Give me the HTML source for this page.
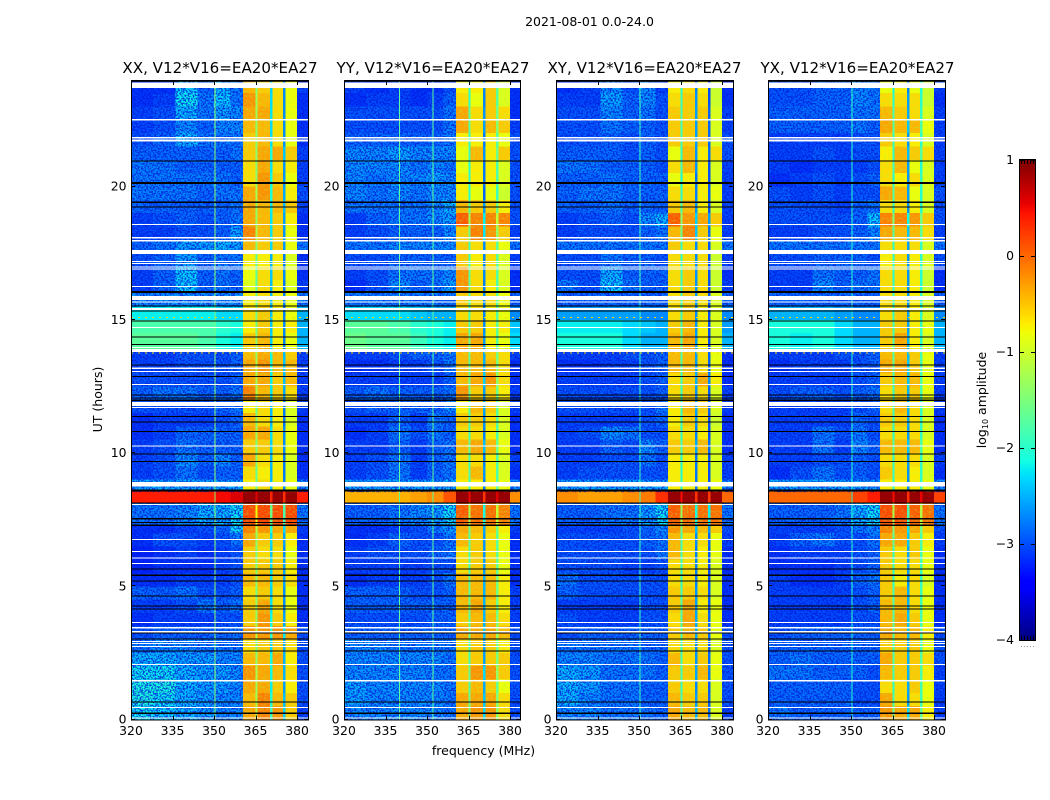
<!DOCTYPE html>
<html lang="en">
<head>
<meta charset="utf-8">
<title>2021-08-01 0.0-24.0</title>
<style>
html,body{margin:0;padding:0;background:#fff;width:1050px;height:800px;overflow:hidden}
svg{display:block}
text{font-family:"DejaVu Sans","Liberation Sans",sans-serif;fill:#000}
.tick-label{font-size:12.4px}
.panel-title{font-size:15.1px;text-anchor:middle}
.axis-label{font-size:12.5px;text-anchor:middle}
</style>
</head>
<body>
<svg id="figure" xmlns="http://www.w3.org/2000/svg" width="1050" height="800" viewBox="0 0 1050 800">
  <defs>
    <filter id="speckle" x="0" y="0" width="1" height="1" color-interpolation-filters="sRGB">
      <feTurbulence type="fractalNoise" baseFrequency="0.6" numOctaves="1" seed="7"/>
      <feColorMatrix values="0 0 0 0 0  0 0 0 0 0.1  0 0 0 0 0.85  5 0 0 0 -2.1"/>
    </filter>
    <filter id="band-speckle" x="0" y="0" width="1" height="1" color-interpolation-filters="sRGB">
      <feTurbulence type="fractalNoise" baseFrequency="0.45" numOctaves="1" seed="11"/>
      <feColorMatrix values="0 0 0 0 0.65  0 0 0 0 1  0 0 0 0 0.3  3 0 0 0 -1.2"/>
    </filter>
  </defs>
  <text x="589.5" y="26" text-anchor="middle" font-size="12.5">2021-08-01 0.0-24.0</text>
  <g id="panels"></g>
  <text class="panel-title" x="220" y="73">XX, V12*V16=EA20*EA27</text>
  <text class="panel-title" x="433" y="73">YY, V12*V16=EA20*EA27</text>
  <text class="panel-title" x="644.5" y="73">XY, V12*V16=EA20*EA27</text>
  <text class="panel-title" x="857.5" y="73">YX, V12*V16=EA20*EA27</text>
  <text class="axis-label" transform="translate(102,399.5) rotate(-90)">UT (hours)</text>
  <text class="axis-label" x="483.5" y="755">frequency (MHz)</text>
  <g id="colorbar"></g>
  <text class="axis-label" transform="translate(986,400) rotate(-90)">log<tspan font-size="8" dy="2">10</tspan><tspan dy="-2"> amplitude</tspan></text>
</svg>
<script>
// Time bin edges in hours (top of the plot to the bottom); one matrix row per bin.
const timeEdges = [24,23.5,23,22.5,22,21.5,21,20.5,20,19.5,19,18.5,18,17.5,17,16.5,16,15.5,15,14.5,13.85,13.5,13,12.5,12,11.5,11,10.5,10,9.5,9,8.55,8.1,7.3,7,6.5,6,5.5,5,4.5,4,3.5,3,2.5,2,1.5,1,0.5,0];
// Frequency column edges in MHz.
const freqEdges = [320,328,336,344,350,356,360.5,365,365.8,370.3,371.1,375,375.8,380,384];
// Tick values and labels.
const freqTicks = [320,335,350,365,380];
const hourTicks = [0,5,10,15,20];
const colorbarTicks = [1,0,-1,-2,-3,-4];

// log10 amplitude x 10. Columns: six sub-band blocks, bands A-D, upper edge block.
const xxLevels = [
[-31,-31,-23,-28,-24,-27,-4,-5,-6,-8,-30],
[-31,-30,-22,-27,-23,-27,-2,-4,-6,-8,-31],
[-30,-29,-24,-27,-25,-26,-3,-3,-6,-8,-31],
[-30,-29,-26,-28,-26,-26,-4,-4,-6,-8,-31],
[-29,-28,-24,-27,-27,-27,-5,-4,-6,-8,-31],
[-28,-28,-28,-28,-28,-27,-5,-3,-3,-5,-30],
[-27,-27,-28,-28,-28,-28,-6,-3,-6,-7,-30],
[-27,-27,-27,-27,-27,-28,-6,-2,-5,-8,-30],
[-27,-27,-27,-28,-27,-27,-3,-2,-4,-7,-29],
[-28,-28,-28,-28,-28,-27,-3,-4,-4,-5,-30],
[-30,-29,-28,-29,-28,-27,-3,-4,-5,-7,-31],
[-30,-30,-29,-29,-28,-25,-1,-4,-5,-8,-31],
[-28,-27,-25,-25,-24,-25,-4,-5,-5,-8,-27],
[-29,-28,-25,-28,-27,-27,-7,-7,-7,-9,-31],
[-30,-28,-23,-28,-27,-28,-8,-6,-6,-8,-31],
[-30,-28,-23,-28,-27,-28,-9,-6,-7,-9,-30],
[-26,-26,-26,-26,-26,-26,-7,-6,-7,-8,-27],
[-22,-22,-22,-22,-23,-23,-6,-5,-7,-8,-25],
[-18,-18,-18,-18,-20,-21,-7,-5,-7,-7,-25],
[-17,-17,-17,-18,-21,-22,-5,-4,-7,-8,-25],
[-30,-30,-29,-29,-29,-28,-4,-3,-4,-5,-30],
[-30,-30,-29,-29,-29,-28,-3,-2,-4,-4,-30],
[-29,-29,-29,-29,-29,-28,-3,-3,-5,-4,-30],
[-28,-27,-27,-28,-28,-27,-1,-4,-5,-6,-30],
[-29,-29,-29,-29,-28,-27,-7,-6,-7,-9,-30],
[-31,-30,-30,-30,-29,-28,-4,-6,-7,-9,-31],
[-31,-30,-28,-28,-28,-28,-3,-3,-6,-8,-31],
[-30,-29,-27,-28,-28,-28,-5,-5,-6,-8,-31],
[-30,-29,-26,-28,-26,-28,-3,-6,-7,-9,-31],
[-30,-29,-27,-29,-28,-28,-6,-7,-7,-9,-31],
[-25,-25,-25,-25,-25,-25,-7,-6,-7,-8,-26],
[4,4,4,4,5,6,9,9,9,9,4],
[-27,-27,-26,-24,-24,-22,2,2,2,2,-27],
[-31,-31,-30,-29,-28,-22,-1,-2,-3,-3,-30],
[-31,-29,-29,-30,-29,-27,-3,-5,-5,-7,-31],
[-32,-31,-30,-31,-30,-29,-5,-6,-6,-8,-31],
[-32,-31,-31,-31,-30,-29,-5,-5,-5,-7,-31],
[-31,-31,-30,-30,-30,-29,-4,-4,-5,-6,-31],
[-28,-28,-27,-29,-29,-28,-6,-5,-6,-8,-31],
[-30,-30,-29,-27,-28,-27,-5,-3,-6,-8,-31],
[-31,-30,-30,-30,-29,-29,-5,-2,-5,-7,-31],
[-29,-28,-28,-28,-28,-27,-2,-2,-2,-3,-29],
[-27,-26,-26,-27,-27,-27,-6,-5,-5,-6,-29],
[-24,-24,-25,-25,-26,-26,-4,-4,-3,-7,-29],
[-22,-22,-24,-25,-25,-26,-2,-3,-4,-6,-29],
[-21,-21,-24,-25,-25,-26,-3,-3,-5,-7,-29],
[-21,-22,-24,-25,-26,-26,-4,-1,-4,-5,-29],
[-22,-23,-24,-25,-26,-26,-3,-1,-2,-5,-30]
];
const yyLevels = [
[-30,-31,-30,-31,-31,-29,-7,-7,-5,-9,-31],
[-31,-30,-30,-31,-30,-28,-6,-8,-5,-9,-31],
[-29,-29,-29,-29,-29,-27,-3,-6,-5,-6,-31],
[-29,-29,-29,-29,-29,-27,-3,-6,-4,-5,-30],
[-28,-28,-28,-28,-28,-27,-7,-7,-7,-8,-29],
[-26,-26,-25,-26,-26,-26,-8,-4,-7,-5,-29],
[-26,-26,-26,-27,-26,-27,-8,-7,-7,-9,-29],
[-26,-27,-26,-26,-25,-26,-7,-7,-7,-9,-29],
[-26,-27,-26,-27,-26,-26,-7,-8,-8,-10,-29],
[-27,-27,-27,-27,-26,-24,-4,-5,-5,-7,-29],
[-30,-28,-27,-27,-26,-25,1,-1,-1,-1,-29],
[-30,-29,-28,-28,-28,-26,-5,-1,-2,-5,-30],
[-27,-27,-26,-26,-26,-26,-5,-6,-6,-8,-27],
[-29,-29,-28,-28,-28,-28,-5,-7,-6,-9,-30],
[-30,-29,-27,-27,-27,-26,-2,-6,-6,-9,-31],
[-31,-29,-26,-28,-27,-25,-2,-6,-7,-9,-31],
[-27,-27,-27,-27,-27,-27,-5,-6,-6,-8,-28],
[-23,-23,-23,-24,-25,-25,-6,-6,-7,-8,-27],
[-17,-17,-18,-20,-21,-22,-5,-5,-7,-7,-24],
[-16,-17,-17,-19,-21,-22,-3,-3,-7,-8,-23],
[-30,-30,-29,-28,-28,-27,-4,-4,-5,-6,-30],
[-31,-31,-30,-30,-29,-27,-4,-4,-4,-6,-31],
[-30,-30,-30,-30,-30,-28,-4,-3,-2,-6,-31],
[-28,-27,-28,-28,-28,-27,-2,-5,-5,-7,-30],
[-29,-28,-28,-28,-28,-26,-7,-4,-5,-9,-30],
[-30,-30,-28,-30,-27,-28,-5,-5,-6,-9,-31],
[-31,-30,-27,-29,-27,-28,-6,-6,-7,-9,-31],
[-30,-30,-28,-30,-28,-27,-4,-3,-4,-8,-31],
[-30,-29,-27,-30,-28,-27,-6,-6,-7,-9,-30],
[-30,-29,-27,-30,-28,-27,-6,-4,-7,-9,-31],
[-25,-25,-25,-25,-25,-24,-7,-7,-7,-8,-26],
[-4,-4,-4,-3,-2,1,9,9,9,9,-2],
[-28,-28,-27,-26,-25,-22,1,0,0,-1,-27],
[-31,-31,-30,-29,-27,-25,-3,-4,-5,-7,-30],
[-31,-30,-28,-29,-29,-27,-4,-5,-6,-8,-31],
[-30,-29,-29,-29,-28,-27,-6,-5,-6,-8,-31],
[-30,-30,-30,-30,-29,-29,-6,-5,-5,-8,-31],
[-31,-30,-30,-30,-29,-27,-4,-4,-4,-7,-31],
[-28,-28,-28,-29,-29,-28,-4,-4,-4,-7,-30],
[-28,-28,-28,-28,-28,-28,-4,-3,-5,-7,-30],
[-29,-29,-29,-29,-28,-28,-5,-4,-4,-6,-30],
[-28,-28,-28,-28,-28,-28,-3,-3,-3,-4,-29],
[-26,-26,-27,-27,-27,-27,-6,-5,-5,-7,-29],
[-26,-26,-26,-26,-26,-27,-6,-5,-5,-5,-29],
[-26,-26,-26,-26,-27,-27,-5,-2,-2,-5,-29],
[-25,-26,-26,-26,-26,-27,-5,-4,-5,-8,-29],
[-25,-26,-26,-26,-26,-27,-3,-3,-3,-6,-29],
[-26,-26,-26,-26,-26,-27,-3,-2,-2,-6,-29]
];
const xyLevels = [
[-31,-30,-26,-29,-26,-30,-7,-6,-7,-10,-31],
[-30,-30,-25,-28,-26,-29,-6,-5,-6,-10,-31],
[-29,-29,-26,-28,-27,-29,-5,-5,-5,-9,-30],
[-29,-29,-27,-28,-28,-29,-5,-5,-5,-9,-30],
[-29,-29,-28,-29,-28,-29,-5,-5,-5,-9,-29],
[-28,-28,-28,-29,-28,-29,-8,-4,-7,-6,-29],
[-27,-27,-28,-28,-28,-29,-6,-4,-7,-9,-30],
[-28,-28,-27,-28,-28,-28,-8,-7,-7,-9,-30],
[-28,-27,-27,-28,-28,-28,-6,-6,-7,-8,-30],
[-28,-28,-27,-28,-28,-28,-5,-4,-7,-9,-30],
[-30,-29,-28,-29,-26,-24,1,-2,-3,-5,-30],
[-30,-29,-29,-29,-28,-27,-4,-1,-5,-8,-30],
[-27,-27,-27,-27,-27,-27,-5,-6,-6,-9,-27],
[-29,-29,-27,-28,-28,-29,-6,-6,-6,-10,-30],
[-29,-29,-24,-28,-28,-28,-6,-5,-6,-10,-31],
[-27,-29,-23,-27,-28,-28,-6,-5,-6,-10,-30],
[-28,-28,-28,-28,-28,-28,-6,-5,-6,-9,-28],
[-26,-26,-26,-26,-27,-27,-6,-5,-7,-9,-27],
[-22,-22,-22,-23,-24,-25,-5,-4,-7,-9,-26],
[-21,-21,-21,-23,-25,-25,-4,-3,-7,-9,-25],
[-30,-30,-30,-29,-29,-28,-4,-4,-6,-8,-31],
[-31,-31,-30,-30,-29,-28,-4,-4,-6,-8,-31],
[-30,-30,-30,-30,-29,-28,-6,-5,-3,-7,-31],
[-29,-29,-29,-29,-29,-28,-6,-5,-6,-9,-30],
[-29,-29,-29,-29,-29,-27,-7,-4,-5,-9,-30],
[-30,-30,-30,-30,-29,-28,-7,-5,-6,-10,-31],
[-30,-29,-26,-27,-29,-29,-6,-6,-7,-9,-31],
[-30,-30,-28,-29,-26,-28,-5,-5,-4,-9,-31],
[-30,-30,-29,-29,-27,-29,-7,-7,-7,-9,-30],
[-30,-29,-29,-29,-29,-29,-7,-7,-7,-9,-30],
[-25,-25,-25,-25,-25,-25,-7,-7,-7,-8,-26],
[-2,-3,-3,-2,-1,3,9,9,9,9,0],
[-28,-28,-27,-27,-25,-22,1,0,0,0,-27],
[-30,-30,-30,-29,-28,-26,-2,-3,-4,-5,-29],
[-29,-29,-29,-29,-28,-27,-4,-6,-6,-8,-30],
[-29,-29,-29,-29,-29,-27,-4,-6,-7,-8,-31],
[-29,-29,-29,-30,-30,-29,-6,-6,-7,-9,-31],
[-27,-29,-29,-29,-29,-29,-6,-6,-7,-9,-31],
[-28,-29,-29,-29,-29,-29,-5,-5,-6,-9,-31],
[-30,-30,-30,-30,-29,-29,-5,-3,-7,-8,-31],
[-29,-30,-30,-30,-29,-29,-6,-3,-6,-8,-31],
[-29,-28,-28,-28,-28,-28,-5,-4,-5,-8,-29],
[-27,-27,-27,-27,-28,-28,-6,-6,-6,-9,-29],
[-26,-26,-27,-27,-27,-28,-4,-6,-5,-8,-29],
[-24,-25,-27,-27,-27,-28,-5,-5,-4,-8,-29],
[-24,-25,-27,-27,-28,-28,-5,-6,-6,-9,-29],
[-24,-26,-27,-27,-28,-28,-4,-5,-5,-9,-29],
[-26,-26,-27,-27,-27,-28,-3,-4,-4,-9,-30]
];
const yxLevels = [
[-29,-29,-28,-28,-26,-27,-8,-7,-8,-10,-30],
[-29,-29,-28,-28,-26,-27,-6,-6,-6,-10,-31],
[-28,-28,-28,-28,-27,-27,-4,-5,-6,-9,-30],
[-28,-28,-28,-28,-27,-28,-3,-4,-4,-8,-30],
[-30,-30,-30,-30,-29,-29,-5,-6,-7,-9,-30],
[-30,-30,-29,-30,-29,-29,-7,-4,-5,-6,-30],
[-30,-31,-30,-30,-30,-29,-6,-4,-8,-9,-30],
[-31,-30,-29,-30,-29,-28,-6,-7,-6,-9,-30],
[-29,-30,-29,-30,-29,-29,-3,-4,-8,-9,-29],
[-29,-29,-29,-30,-28,-27,-6,-6,-7,-9,-29],
[-29,-29,-29,-29,-28,-23,-1,-1,-2,-5,-29],
[-30,-30,-29,-29,-28,-26,-3,-4,-4,-6,-30],
[-27,-27,-27,-27,-27,-27,-6,-6,-6,-9,-27],
[-29,-29,-28,-28,-28,-29,-7,-6,-7,-9,-29],
[-30,-30,-27,-28,-28,-27,-6,-6,-7,-10,-31],
[-30,-30,-26,-28,-27,-27,-6,-6,-7,-10,-31],
[-28,-28,-28,-28,-28,-28,-6,-6,-7,-9,-28],
[-25,-25,-25,-26,-27,-27,-6,-5,-7,-9,-27],
[-21,-21,-21,-23,-25,-25,-5,-5,-7,-8,-25],
[-21,-22,-21,-23,-25,-25,-5,-3,-7,-9,-25],
[-30,-30,-30,-29,-29,-28,-4,-4,-5,-8,-30],
[-31,-30,-30,-30,-29,-28,-3,-3,-5,-8,-30],
[-30,-30,-30,-30,-29,-28,-5,-4,-4,-8,-30],
[-29,-28,-28,-29,-28,-27,-6,-5,-5,-8,-30],
[-30,-30,-30,-30,-29,-28,-6,-4,-6,-9,-30],
[-30,-30,-30,-30,-28,-29,-5,-5,-6,-9,-31],
[-30,-30,-27,-29,-27,-29,-6,-6,-6,-9,-31],
[-30,-30,-27,-30,-26,-28,-4,-4,-4,-8,-31],
[-30,-30,-29,-29,-28,-29,-6,-6,-6,-9,-30],
[-31,-29,-27,-29,-28,-29,-5,-6,-7,-9,-31],
[-25,-25,-25,-25,-25,-25,-7,-7,-7,-8,-26],
[0,0,0,0,2,4,9,9,9,9,2],
[-28,-28,-28,-27,-24,-22,2,2,1,0,-27],
[-30,-30,-30,-29,-27,-26,-1,-2,-3,-5,-29],
[-30,-28,-27,-29,-29,-27,-3,-3,-5,-7,-30],
[-31,-30,-30,-30,-29,-28,-5,-6,-5,-8,-31],
[-31,-31,-31,-30,-29,-28,-5,-6,-6,-8,-31],
[-30,-31,-31,-30,-28,-27,-5,-7,-6,-9,-31],
[-30,-30,-30,-30,-29,-28,-5,-4,-6,-8,-31],
[-30,-30,-30,-30,-29,-28,-4,-4,-6,-8,-31],
[-30,-30,-30,-30,-29,-29,-4,-3,-5,-8,-31],
[-29,-28,-28,-28,-28,-28,-3,-4,-4,-7,-29],
[-28,-28,-28,-28,-28,-28,-5,-5,-5,-8,-29],
[-28,-27,-28,-28,-28,-28,-3,-5,-5,-6,-29],
[-27,-27,-28,-28,-28,-29,-4,-5,-5,-7,-30],
[-28,-28,-28,-28,-29,-29,-6,-6,-5,-8,-30],
[-28,-28,-28,-28,-29,-29,-3,-6,-6,-8,-30],
[-27,-28,-28,-28,-28,-28,-2,-3,-3,-7,-30]
];
// Level drop (x 10) of the three narrow gaps between bands A-D, relative to the neighbouring bands.
const xxGapDrop = [10,18,20];
const yyGapDrop = [13,21,10];
const xyGapDrop = [14,21,22];
const yxGapDrop = [14,20,12];
// Narrow interference lines: frequency in MHz and level (x 10).
const xxLineFreqs = [350];
const yyLineFreqs = [339.7,351.8];
const xyLineFreqs = [350];
const yxLineFreqs = [350];
const xxLineLevel = -14;
const yyLineLevel = -17;
const xyLineLevel = -19;
const yxLineLevel = -20;
// Time ranges [start, end] in hours of flagged rows.
const whiteFlagHours = [[23.91,23.70],[22.53,22.48],[21.86,21.80],[21.76,21.69],[18.59,18.55],[18.10,18.05],[17.99,17.94],[17.62,17.47],[17.20,17.17],[17.13,17.09],[17.00,16.96],[16.92,16.88],[16.27,16.23],[15.89,15.74],[15.68,15.65],[15.44,15.37],[14.73,14.69],[13.97,13.94],[13.90,13.79],[13.20,13.16],[13.08,13.04],[12.59,12.55],[11.91,11.76],[11.72,11.69],[10.28,10.24],[8.91,8.74],[8.09,8.05],[6.77,6.74],[6.32,6.29],[6.08,6.04],[5.87,5.83],[3.66,3.62],[3.47,3.41],[3.32,3.26],[2.95,2.91],[2.87,2.83],[2.76,2.72],[2.08,2.05],[1.48,1.43],[0.47,0.43],[0.075,0.04]];
const blackFlagHours = [[20.97,20.93],[20.17,20.10],[19.43,19.39],[19.25,19.21],[16.08,16.00],[15.53,15.50],[15.35,15.31],[14.97,14.93],[14.37,14.34],[14.09,14.05],[13.32,13.28],[12.89,12.85],[12.20,12.16],[12.08,12.04],[12.00,11.95],[11.39,11.35],[11.18,11.14],[10.82,10.79],[9.98,9.94],[9.70,9.66],[8.63,8.55],[8.14,8.11],[7.57,7.50],[7.41,7.37],[7.31,7.27],[5.66,5.62],[5.44,5.38],[5.21,5.18],[4.65,4.62],[4.28,4.24],[4.16,4.13],[3.26,3.23],[3.04,3.00],[2.59,2.55],[0.68,0.64],[0.27,0.20]];
// Hours of the two rows with sporadic bright points, and their level (x 10).
const spikeRowHours = [15.09,13.75];
const spikeRowLevel = -6;
// Epoch [start, end] in hours where the spectrum is smooth, so no grain is applied below the bands.
const smoothEpochHours = [15.5,13.85];

const svgNS = 'http://www.w3.org/2000/svg';
const panelsGroup = document.getElementById('panels');
const colorbarGroup = document.getElementById('colorbar');
const panelKeys = ['xx','yy','xy','yx'];
const panelLevels = [xxLevels,yyLevels,xyLevels,yxLevels];
const panelGapDrops = [xxGapDrop,yyGapDrop,xyGapDrop,yxGapDrop];
const panelLineFreqs = [xxLineFreqs,yyLineFreqs,xyLineFreqs,yxLineFreqs];
const panelLineLevels = [xxLineLevel,yyLineLevel,xyLineLevel,yxLineLevel];
const panelLefts = [131,344,556,768];
const panelWidths = [177,176,177,177];
const plotTop = 81;
const plotBottom = 719.5;
const pxPerMHz = 2.767;
const pxPerHour = 26.65;
const xMin = 320;

function yScale(hour){ return plotBottom - hour * pxPerHour; }
function interp(points, v){
  for (let i = 1; i < points.length; i++) {
    if (v <= points[i][0]) {
      const a = points[i-1], b = points[i];
      return a[1] + (b[1]-a[1]) * (v-a[0]) / (b[0]-a[0]);
    }
  }
  return points[points.length-1][1];
}
function jet(level){
  const n = Math.max(0, Math.min(1, (level + 4) / 5));
  const r = interp([[0,0],[.35,0],[.66,1],[.89,1],[1,.5]], n);
  const g = interp([[0,0],[.125,0],[.375,1],[.64,1],[.91,0],[1,0]], n);
  const b = interp([[0,.5],[.11,1],[.34,1],[.65,0],[1,0]], n);
  return 'rgb(' + Math.round(r*255) + ',' + Math.round(g*255) + ',' + Math.round(b*255) + ')';
}
function make(tag, attrs, parent){
  const el = document.createElementNS(svgNS, tag);
  for (const k in attrs) el.setAttribute(k, attrs[k]);
  parent.appendChild(el);
  return el;
}
// Gap level: mean of the neighbouring bands minus the drop; saturated rows fill the gaps far more.
function gapLevel(a, b, drop){
  const mean = (a + b) / 2;
  return mean - (mean >= 5 ? drop * 0.3 : drop);
}
// Value of a frequency column in a row: blocks and bands come straight from the matrix; gaps derive from neighbours.
function columnLevel(row, col, gapDrop){
  if (col <= 6) return row[col];
  if (col === 7) return gapLevel(row[6], row[7], gapDrop[0]);
  if (col === 8) return row[7];
  if (col === 9) return gapLevel(row[7], row[8], gapDrop[1]);
  if (col === 10) return row[8];
  if (col === 11) return gapLevel(row[8], row[9], gapDrop[2]);
  if (col === 12) return row[9];
  return row[10];
}

panelKeys.forEach(function(key, p){
  const left = panelLefts[p];
  const panelWidth = panelWidths[p];
  const xScale = function(mhz){ return left + (mhz - xMin) * pxPerMHz; };
  const group = make('g', {}, panelsGroup);
  
  

  const clipId = 'clip-' + key;
  const clip = make('clipPath', {id: clipId}, group);
  make('rect', {x: left, y: plotTop, width: panelWidth + 1, height: plotBottom - plotTop}, clip);
  const grainClip = make('clipPath', {id: 'grain-clip-' + key}, group);
  const bandClip = make('clipPath', {id: 'band-clip-' + key}, group);

  const plot = make('g', {'clip-path': 'url(#' + clipId + ')', 'shape-rendering': 'crispEdges'}, group);
  
  

  panelLevels[p].forEach(function(row, r){
    const y0 = yScale(timeEdges[r]), y1 = yScale(timeEdges[r+1]);
    for (let c = 0; c < freqEdges.length - 1; c++) {
      const x0 = xScale(freqEdges[c]), x1 = xScale(freqEdges[c+1]);
      const cell = make('rect', {x: x0, y: y0, width: x1 - x0 + 0.5, height: y1 - y0 + 0.5, fill: jet(columnLevel(row, c, panelGapDrops[p]) / 10)}, plot);
      
      
    }
    const midHour = (timeEdges[r] + timeEdges[r+1]) / 2;
    const smooth = midHour < smoothEpochHours[0] && midHour > smoothEpochHours[1];
    if (!smooth && Math.max(row[0], row[1], row[2], row[3], row[4], row[5]) < -5) {
      make('rect', {x: xScale(320), y: y0, width: xScale(360.5) - xScale(320), height: y1 - y0 + 0.5}, grainClip);
    }
    if (!smooth && row[10] < -5) {
      make('rect', {x: xScale(380), y: y0, width: xScale(384) - xScale(380) + 1, height: y1 - y0 + 0.5}, grainClip);
    }
    if (Math.max(row[6], row[7], row[8], row[9]) < 3) {
      [6,8,10,12].forEach(function(c){
        make('rect', {x: xScale(freqEdges[c]), y: y0, width: xScale(freqEdges[c+1]) - xScale(freqEdges[c]), height: y1 - y0 + 0.5}, bandClip);
      });
    }
  });

  const grain = make('rect', {x: left, y: plotTop, width: panelWidth + 1, height: plotBottom - plotTop, filter: 'url(#speckle)', opacity: 0.8, 'clip-path': 'url(#grain-clip-' + key + ')'}, plot);
  
  
  const bandGrain = make('rect', {x: left, y: plotTop, width: panelWidth + 1, height: plotBottom - plotTop, filter: 'url(#band-speckle)', opacity: 0.3, 'clip-path': 'url(#band-clip-' + key + ')'}, plot);
  
  

  panelLineFreqs[p].forEach(function(f){
    const line = make('rect', {x: xScale(f) + 0.5, y: plotTop, width: 1, height: plotBottom - plotTop, fill: jet(panelLineLevels[p] / 10)}, plot);
    
    
  });

  spikeRowHours.forEach(function(h){
    const spikes = make('line', {x1: left, x2: left + panelWidth, y1: yScale(h), y2: yScale(h), stroke: jet(spikeRowLevel / 10), 'stroke-width': 1, 'stroke-dasharray': '2 5'}, plot);
    
    
  });

  whiteFlagHours.forEach(function(f){
    const band = make('rect', {x: left, y: yScale(f[0]), width: panelWidth + 1, height: Math.max(1, yScale(f[1]) - yScale(f[0])), fill: '#fff'}, plot);
    
    
  });
  blackFlagHours.forEach(function(f){
    const band = make('rect', {x: left, y: yScale(f[0]), width: panelWidth + 1, height: Math.max(1, yScale(f[1]) - yScale(f[0])), fill: '#000'}, plot);
    
    
  });

  const frame = make('rect', {x: left + 0.5, y: plotTop - 0.5, width: panelWidth, height: plotBottom - plotTop + 1, fill: 'none', stroke: '#000', 'stroke-width': 1}, group);
  
  
  const topEdge = make('line', {x1: left, x2: left + panelWidth + 1, y1: plotTop, y2: plotTop, stroke: '#000', 'stroke-width': 1.5}, group);
  
  

  freqTicks.forEach(function(f){
    const x = Math.round(xScale(f)) + 0.5;
    const t1 = make('line', {x1: x, x2: x, y1: plotBottom, y2: plotBottom - 4, stroke: '#000'}, group);
    
    
    const t2 = make('line', {x1: x, x2: x, y1: plotTop, y2: plotTop + 4, stroke: '#000'}, group);
    
    
    const lab = make('text', {class: 'tick-label', x: xScale(f), y: 735, 'text-anchor': 'middle'}, group);
    lab.textContent = String(f);
    
    
  });
  hourTicks.forEach(function(h){
    const y = Math.round(yScale(h)) - 0.5;
    const t1 = make('line', {x1: left, x2: left + 4, y1: y, y2: y, stroke: '#000'}, group);
    
    
    const t2 = make('line', {x1: left + panelWidth, x2: left + panelWidth - 4, y1: y, y2: y, stroke: '#000'}, group);
    
    
    const lab = make('text', {class: 'tick-label', x: left - 4.5, y: yScale(h) + 4, 'text-anchor': 'end'}, group);
    lab.textContent = String(h);
    
    
  });
});

// Colorbar
const cbLeft = 1020, cbWidth = 15, cbTop = 160, cbBottom = 640;
function cbScale(level){ return cbBottom - (level + 4) * (cbBottom - cbTop) / 5; }
for (let i = 0; i < 240; i++) {
  const level = -4 + (i + 0.5) * 5 / 240;
  const s = make('rect', {x: cbLeft, y: cbScale(-4 + (i + 1) * 5 / 240), width: cbWidth, height: 2.5, fill: jet(level), 'shape-rendering': 'crispEdges'}, colorbarGroup);
  
  
}
const cbFrame = make('rect', {x: cbLeft - 0.5, y: cbTop - 0.5, width: cbWidth + 1, height: cbBottom - cbTop + 1, fill: 'none', stroke: '#000'}, colorbarGroup);


colorbarTicks.forEach(function(v){
  const y = Math.round(cbScale(v)) + 0.5;
  const t1 = make('line', {x1: cbLeft, x2: cbLeft + 4, y1: y, y2: y, stroke: '#000'}, colorbarGroup);
  
  
  const t2 = make('line', {x1: cbLeft + cbWidth, x2: cbLeft + cbWidth - 4, y1: y, y2: y, stroke: '#000'}, colorbarGroup);
  
  
  const lab = make('text', {class: 'tick-label', x: cbLeft - 6, y: cbScale(v) + 4, 'text-anchor': 'end'}, colorbarGroup);
  lab.textContent = (v < 0 ? '\u2212' + Math.abs(v) : String(v));
  
  
});
for (let i = 0; i < 5; i++) {
  const x = cbLeft + 1.5 + i * 3;
  const a = make('line', {x1: x, x2: x, y1: cbTop, y2: cbTop + 4, stroke: '#000'}, colorbarGroup);
  
  
  const b = make('line', {x1: x, x2: x, y1: cbBottom, y2: cbBottom - 4, stroke: '#000'}, colorbarGroup);
  
  
  const d = make('rect', {x: x - 0.5, y: 646, width: 1, height: 1, fill: '#999'}, colorbarGroup);
  
  
}
</script>
</body>
</html>
